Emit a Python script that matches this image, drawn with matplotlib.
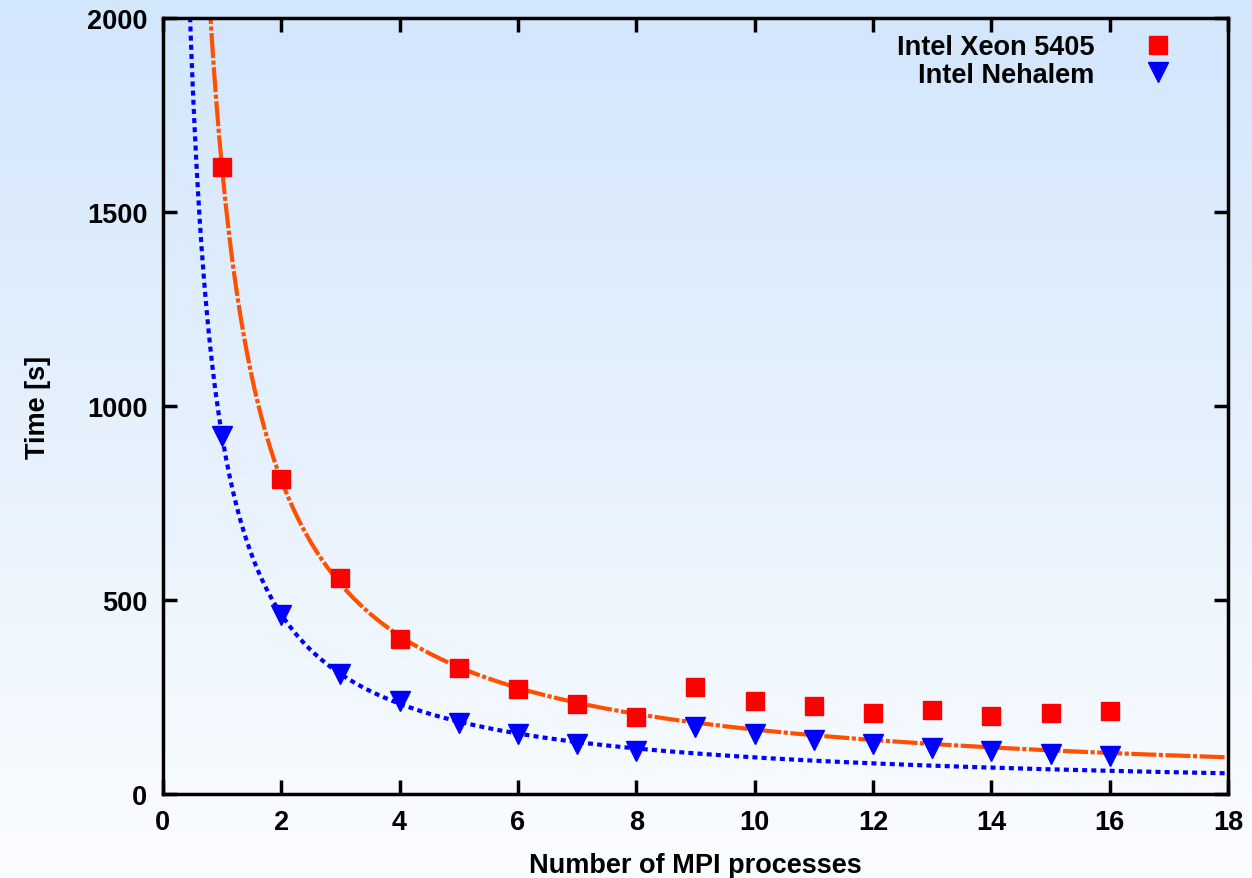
import numpy as np
import matplotlib
matplotlib.use("Agg")
import matplotlib.pyplot as plt
from matplotlib.colors import LinearSegmentedColormap

# ------------------------------------------------------------
# Data
# ------------------------------------------------------------

procs = [1, 2, 3, 4, 5, 6, 7, 8, 9, 10, 11, 12, 13, 14, 15, 16]

xeon_time = [1616, 812, 557, 400, 324, 271, 232, 199,
             275, 240, 226, 209, 217, 200, 209, 215]

nehalem_time = [923, 461, 309, 240, 183, 155, 129, 112,
                172, 155, 140, 129, 119, 110, 103, 99]

# ideal scaling curves  T(p) = a / p + b
xeon_fit = (1611.0, 5.0)
nehalem_fit = (923.0, 2.0)

series_labels = ["Intel Xeon 5405", "Intel Nehalem"]

x_ticks = [0, 2, 4, 6, 8, 10, 12, 14, 16, 18]
y_ticks = [0, 500, 1000, 1500, 2000]


def main():
    plt.rcParams["font.family"] = ["Liberation Sans", "DejaVu Sans"]
    plt.rcParams["font.weight"] = "bold"
    fsize = 19.5

    fig = plt.figure(figsize=(12.52, 8.79), dpi=100)

    # background gradient over whole figure
    bg_ax = fig.add_axes([0, 0, 1, 1], zorder=-10)
    cmap = LinearSegmentedColormap.from_list(
        "bg", ["#d2e6fc", "#e6f1fd", "#fbfdff"]
    )
    gradient = np.linspace(0, 1, 256).reshape(-1, 1)
    bg_ax.imshow(gradient, aspect="auto", cmap=cmap, extent=[0, 1, 0, 1])
    bg_ax.axis("off")

    ax = fig.add_axes([0.130, 0.0956, 0.851, 0.8825])
    ax.set_facecolor("none")

    p = np.linspace(0.3, 18, 600)
    ax.plot(p, xeon_fit[0] / p + xeon_fit[1], color="#ff5000", lw=3,
            dashes=(6, 0.6, 1, 0.6), zorder=2)
    ax.plot(p, nehalem_fit[0] / p + nehalem_fit[1], color="#0000ff", lw=3,
            dashes=(1.2, 1.0), zorder=2)

    ax.plot(procs, xeon_time, ls="none", marker="s", ms=13.5,
            color="#ff0000", label=series_labels[0], zorder=3)
    ax.plot(procs, nehalem_time, ls="none", marker="v", ms=14,
            color="#0000ff", label=series_labels[1], zorder=3)

    ax.set_xlim(0, 18)
    ax.set_ylim(0, 2000)
    ax.set_xticks(x_ticks)
    ax.set_yticks(y_ticks)

    for spine in ax.spines.values():
        spine.set_linewidth(2.5)

    ax.tick_params(direction="in", length=10, width=2.5, top=True,
                   right=True, labelsize=fsize, pad=11)

    ax.set_xlabel("Number of MPI processes", fontsize=fsize,
                  fontweight="bold", labelpad=12)
    ax.set_ylabel("Time [s]", fontsize=fsize, fontweight="bold",
                  labelpad=26)

    ax.legend(loc="upper right", frameon=False, markerfirst=False,
              fontsize=fsize, handletextpad=1.6, labelspacing=0.05,
              borderaxespad=0.3, handlelength=1.5,
              bbox_to_anchor=(1 - 31 / 1065, 1 + 3 / 776))

    fig.savefig("out.png", dpi=100)


if __name__ == "__main__":
    main()
